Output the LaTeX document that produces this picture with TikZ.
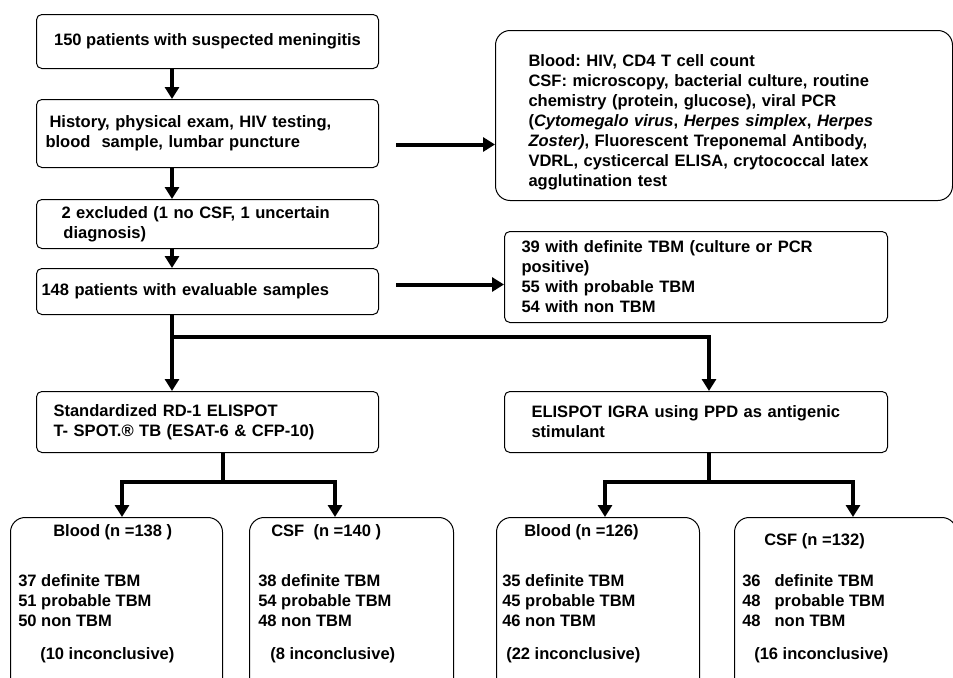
\documentclass[tikz,border=0pt]{standalone}
\usepackage{fontspec}
\setmainfont{Liberation Sans}
\usepackage{tikz}
\usetikzlibrary{arrows.meta, positioning}

\tikzset{
  box/.style={draw, line width=0.75pt, rounded corners=4pt, align=left, inner ysep=2pt},
  bigbox/.style={draw, line width=0.75pt, rounded corners=11pt, inner sep=0pt},
  txt/.style={align=left, inner sep=0pt, anchor=north west},
  arr/.style={line width=3pt, -{Triangle[width=10.5pt,length=9pt]}},
  trunk/.style={line width=3pt}
}

\begin{document}
\begin{tikzpicture}[every node/.style={font=\fontsize{12.4}{15}\selectfont\bfseries\frenchspacing}]
            \useasboundingbox (0,0) rectangle (714.75pt,-508.5pt);
            \clip (0,0) rectangle (714.75pt,-508.5pt);

            % main column
            \node (b1) [box, anchor=north west, minimum width=256.5pt, minimum height=40.5pt] at (27pt,-10.5pt) {150 patients with suspected meningitis};
            \node (b2) [box, below=22.5pt of b1, text width=243pt, inner xsep=6.75pt, minimum height=51pt] {\hspace*{3pt}History, physical exam, HIV testing,\\blood\ \ sample, lumbar puncture};
            \node (b3) [box, below=23.25pt of b2, text width=219pt, inner xsep=18.75pt, minimum height=36.75pt] {2 excluded (1 no CSF, 1 uncertain\\\hspace*{1.5pt}diagnosis)};
            \node (b4) [box, below=14.25pt of b3, text width=249pt, inner xsep=3.75pt, minimum height=34.5pt] {148 patients with evaluable samples};
            \node (b5) [box, below=57pt of b4, text width=231pt, inner xsep=12.75pt, minimum height=45.75pt] {Standardized RD-1 ELISPOT\\T- SPOT.® TB (ESAT-6 \& CFP-10)};
            \node (b6) [box, right=93.75pt of b5, text width=246.75pt, inner xsep=20.25pt, minimum height=45.75pt] {ELISPOT IGRA using PPD as antigenic\\stimulant};

            % side boxes
            \node (infoA) [box, rounded corners=11pt, anchor=north west, text width=293.25pt, inner xsep=24.75pt, minimum height=127.5pt] at (371.25pt,-22.5pt) {\rule{0pt}{19.5pt}Blood: HIV, CD4 T cell count\\CSF: microscopy, bacterial culture, routine\\chemistry (protein, glucose), viral PCR\\(\textit{Cytomegalo virus}, \textit{Herpes simplex}, \textit{Herpes}\\\textit{Zoster)}, Fluorescent Treponemal Antibody,\\VDRL, cysticercal ELISA, crytococcal latex\\agglutination test};
            \node (infoB) [box, above=51pt of b6, text width=261.75pt, inner xsep=12.75pt, minimum height=68.25pt] {39 with definite TBM (culture or PCR\\positive)\\55 with probable TBM\\54 with non TBM};

            % result boxes
            \node (b7) [bigbox, anchor=north west, minimum width=159pt, minimum height=137pt] at (7.5pt,-387.75pt) {};
            \node (b8) [bigbox, right=19.5pt of b7, minimum width=153pt, minimum height=137pt] {};
            \node (b9) [bigbox, anchor=north west, minimum width=152.25pt, minimum height=137pt] at (372pt,-387.75pt) {};
            \node (b10) [bigbox, right=25.5pt of b9, minimum width=166.5pt, minimum height=137pt] {};

            \node (b7t) [txt] at ([shift={(6pt,-5.25pt)}]b7.north west) {\hspace*{26.25pt}Blood (n =138 )\\[22.5pt]37 definite TBM\\51 probable TBM\\50 non TBM\\[9.75pt]\hspace*{16.5pt}(10 inconclusive)};
            \node (b8t) [txt] at ([shift={(6.75pt,-5.25pt)}]b8.north west) {\hspace*{9.75pt}CSF\ \ (n =140 )\\[22.5pt]38 definite TBM\\54 probable TBM\\48 non TBM\\[9.75pt]\hspace*{9pt}(8 inconclusive)};
            \node (b9t) [txt] at ([shift={(4.5pt,-5.25pt)}]b9.north west) {\hspace*{16.5pt}Blood (n =126)\\[22.5pt]35 definite TBM\\45 probable TBM\\46 non TBM\\[9.75pt]\hspace*{3pt}(22 inconclusive)};
            \node (b10t) [txt] at ([shift={(6pt,-12pt)}]b10.north west) {\hspace*{16.5pt}CSF (n =132)\\[15.75pt]36\hspace{10.5pt}definite TBM\\48\hspace{10.5pt}probable TBM\\48\hspace{10.5pt}non TBM\\[9.75pt]\hspace*{9pt}(16 inconclusive)};

            % connectors
            \draw[arr] ([xshift=102pt]b1.south west) -- ([xshift=102pt]b2.north west);
            \draw[arr] ([xshift=102pt]b2.south west) -- ([xshift=102pt]b3.north west);
            \draw[arr] ([xshift=102pt]b3.south west) -- ([xshift=102pt]b4.north west);
            \draw[arr] ([shift={(12.75pt,-8.25pt)}]b2.east) -- ([yshift=-8.25pt]b2.east -| infoA.west);
            \draw[arr] ([shift={(12.75pt,5.25pt)}]b4.east) -- ([yshift=5.25pt]b4.east -| infoB.west);

            \coordinate (s1) at ([shift={(102pt,-16.5pt)}]b4.south west);
            \draw[arr] ([xshift=102pt]b4.south west) -- ([xshift=102pt]b5.north west);
            \draw[arr] (s1) -| ([xshift=153.75pt]b6.north west);

            \draw[trunk] ([xshift=140.25pt]b5.south west) -- ++(0,-21.75pt) coordinate (s2);
            \draw[arr] (s2) -| ([xshift=84pt]b7.north west);
            \draw[arr] (s2) -| ([xshift=64.5pt]b8.north west);

            \draw[trunk] ([xshift=153.75pt]b6.south west) -- ++(0,-21.75pt) coordinate (s3);
            \draw[arr] (s3) -| ([xshift=81.75pt]b9.north west);
            \draw[arr] (s3) -| ([xshift=89.25pt]b10.north west);
        \end{tikzpicture}
\end{document}
